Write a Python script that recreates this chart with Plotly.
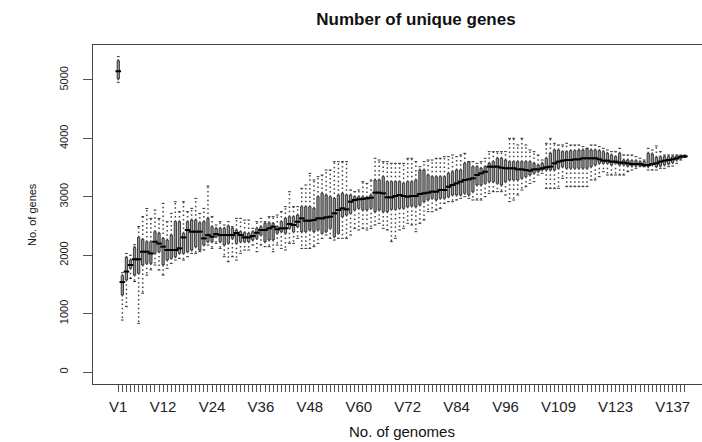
import plotly.graph_objects as go

# ---- data ----
genomes = [f"V{i}" for i in range(1, 141)]
shown_labels = ["V1", "V12", "V24", "V36", "V48", "V60", "V72", "V84", "V96", "V109", "V123", "V137"]

lower = [4960, 890, 1120, 1600, 1550, 833, 1350, 1660, 1750, 1832,
         1746, 1660, 1775, 1860, 1917, 1946, 1917, 1974, 2032, 2032,
         2060, 2089, 2174, 2117, 2203, 2117, 1974, 1889, 1974, 1917,
         2032, 2089, 2089, 2174, 2060, 2174, 2146, 2146, 2060, 2174,
         2117, 2089, 2203, 2203, 2289, 2117, 2117, 2117, 2146, 2203,
         2289, 2346, 2289, 2260, 2289, 2289, 2289, 2346, 2460, 2432,
         2460, 2432, 2460, 2517, 2546, 2460, 2432, 2232, 2289, 2432,
         2460, 2546, 2517, 2403, 2546, 2603, 2745, 2745, 2774, 2802,
         2888, 2917, 2917, 2945, 2974, 3002, 2974, 2945, 2945, 2945,
         3002, 3059, 3088, 3088, 3088, 3031, 2917, 2945, 3031, 3116,
         3173, 3230, 3259, 3373, 3402, 3145, 3145, 3145, 3145, 3316,
         3174, 3174, 3174, 3174, 3174, 3174, 3288, 3288, 3345, 3430,
         3373, 3373, 3373, 3373, 3373, 3430, 3459, 3488, 3516, 3516,
         3459, 3459, 3459, 3488, 3488, 3516, 3527, 3573, 3630, 3676]

q1 = [5020, 1320, 1575, 1775, 1660, 1690, 1832, 1860, 1860, 2032,
      2060, 1832, 1917, 1946, 1974, 2032, 2032, 2060, 2089, 2146,
      2089, 2174, 2231, 2231, 2317, 2231, 2174, 2203, 2288, 2203,
      2231, 2231, 2231, 2260, 2288, 2345, 2231, 2260, 2260, 2375,
      2403, 2375, 2460, 2403, 2488, 2403, 2403, 2431, 2403, 2431,
      2374, 2403, 2460, 2317, 2374, 2660, 2688, 2717, 2774, 2802,
      2774, 2774, 2802, 2745, 2774, 2745, 2745, 2785, 2785, 2802,
      2802, 2831, 2843, 2831, 2860, 2917, 2945, 2974, 2945, 2974,
      2974, 3002, 3031, 3031, 3031, 3059, 3031, 3088, 3202, 3202,
      3230, 3259, 3259, 3230, 3202, 3259, 3288, 3288, 3288, 3316,
      3345, 3373, 3402, 3430, 3459, 3459, 3459, 3459, 3488, 3516,
      3488, 3488, 3488, 3488, 3488, 3488, 3516, 3545, 3573, 3573,
      3573, 3545, 3573, 3545, 3545, 3527, 3527, 3527, 3527, 3516,
      3516, 3545, 3516, 3527, 3545, 3562, 3585, 3630, 3659, 3676]

median = [5150, 1540, 1720, 1832, 1930, 1930, 2060, 2060, 2030, 2231,
          2200, 2146, 2089, 2089, 2089, 2117, 2305, 2431, 2403, 2403,
          2403, 2288, 2345, 2317, 2363, 2345, 2345, 2345, 2345, 2380,
          2345, 2305, 2305, 2329, 2385, 2431, 2431, 2460, 2488, 2443,
          2460, 2460, 2534, 2517, 2574, 2631, 2591, 2591, 2602, 2631,
          2631, 2648, 2660, 2717, 2774, 2802, 2785, 2917, 2945, 2957,
          2962, 2974, 2985, 3071, 3071, 3059, 2991, 2991, 3014, 3031,
          3014, 3002, 3014, 3014, 3048, 3059, 3071, 3088, 3088, 3116,
          3116, 3173, 3202, 3230, 3259, 3288, 3299, 3316, 3373, 3402,
          3430, 3516, 3516, 3516, 3499, 3488, 3488, 3488, 3470, 3470,
          3459, 3448, 3470, 3470, 3488, 3505, 3516, 3573, 3602, 3619,
          3630, 3630, 3641, 3641, 3659, 3659, 3659, 3659, 3641, 3619,
          3619, 3602, 3602, 3585, 3585, 3573, 3562, 3562, 3562, 3545,
          3545, 3562, 3573, 3602, 3619, 3630, 3641, 3659, 3687, 3693]

q3 = [5330, 1650, 1963, 1917, 2134, 2306, 2271, 2231, 2231, 2403,
      2375, 2288, 2260, 2345, 2574, 2574, 2375, 2574, 2602, 2602,
      2556, 2574, 2631, 2488, 2460, 2460, 2460, 2500, 2460, 2431,
      2403, 2385, 2375, 2403, 2460, 2488, 2545, 2556, 2545, 2488,
      2574, 2631, 2660, 2660, 2688, 2831, 2831, 2831, 2802, 3002,
      3059, 3030, 3002, 2973, 3030, 3059, 3031, 3031, 3002, 3002,
      3002, 2991, 3031, 3288, 3288, 3345, 3259, 3259, 3259, 3259,
      3230, 3259, 3259, 3288, 3459, 3459, 3373, 3345, 3345, 3345,
      3345, 3402, 3430, 3459, 3459, 3573, 3602, 3516, 3516, 3488,
      3516, 3573, 3602, 3659, 3659, 3630, 3602, 3602, 3602, 3602,
      3602, 3602, 3573, 3545, 3573, 3659, 3744, 3802, 3802, 3773,
      3773, 3790, 3790, 3801, 3801, 3830, 3801, 3801, 3790, 3773,
      3744, 3716, 3687, 3744, 3630, 3630, 3619, 3619, 3602, 3602,
      3744, 3733, 3676, 3687, 3687, 3687, 3687, 3699, 3699, 3704]

upper = [5400, 1700, 2030, 2000, 2180, 2490, 2660, 2800, 2630, 2773,
         2630, 2888, 2574, 2716, 2916, 2745, 2916, 2745, 2802, 2973,
         2716, 2802, 3185, 2660, 2517, 2574, 2517, 2574, 2488, 2631,
         2631, 2602, 2602, 2460, 2574, 2631, 2574, 2660, 2660, 2688,
         2745, 2831, 3087, 2831, 2831, 3145, 3202, 3401, 3287, 3345,
         3373, 3458, 3458, 3601, 3601, 3602, 3602, 3116, 3088, 3116,
         3259, 3230, 3288, 3659, 3630, 3602, 3602, 3573, 3573, 3573,
         3573, 3659, 3659, 3602, 3516, 3602, 3630, 3630, 3659, 3659,
         3687, 3687, 3716, 3687, 3716, 3744, 3602, 3602, 3573, 3602,
         3659, 3773, 3773, 3773, 3773, 3773, 4001, 4001, 3887, 4001,
         3887, 3802, 3773, 3716, 3630, 3916, 4001, 3916, 3887, 3887,
         3916, 3887, 3887, 3887, 3859, 3830, 3887, 3887, 3859, 3830,
         3801, 3773, 3773, 3830, 3716, 3716, 3716, 3687, 3659, 3630,
         3830, 3801, 3870, 3773, 3716, 3716, 3716, 3716, 3716, 3716]

y_ticks = [0, 1000, 2000, 3000, 4000, 5000]

# ---- build figure ----
pos = list(range(1, len(genomes) + 1))
ticktext = [g if g in shown_labels else "" for g in genomes]

wx, wy = [], []
for p, lo, a, b, hi in zip(pos, lower, q1, q3, upper):
    wx += [p, p, None, p, p, None]
    wy += [b, hi, None, a, lo, None]

fig = go.Figure()
fig.add_trace(go.Scatter(
    x=wx, y=wy, mode="lines",
    line=dict(color="#444444", width=1.5, dash="1.5px,2.8px"),
    hoverinfo="skip", showlegend=False))
fig.add_trace(go.Scatter(
    x=pos + pos, y=lower + upper, mode="markers",
    marker=dict(symbol="line-ew", size=2, line=dict(width=1, color="#333333")),
    hoverinfo="skip", showlegend=False))
fig.add_trace(go.Box(
    x=pos, q1=q1, median=median, q3=q3, lowerfence=q1, upperfence=q3,
    fillcolor="#979797", line=dict(color="#1a1a1a", width=0.8),
    whiskerwidth=0, hoverinfo="skip", showlegend=False))
fig.add_trace(go.Scatter(
    x=pos, y=median, mode="markers",
    marker=dict(symbol="line-ew", size=4, line=dict(width=2, color="black")),
    hoverinfo="skip", showlegend=False))

font_family = "Liberation Sans, Arial, Helvetica, sans-serif"
fig.update_layout(
    width=702, height=442,
    margin=dict(l=93, r=0, t=45, b=58),
    paper_bgcolor="white", plot_bgcolor="white",
    boxgap=0.2,
    font=dict(family=font_family, color="#222222"),
    title=dict(text="<b>Number of unique genes</b>", x=416 / 702, xanchor="center",
               y=1 - 19 / 442, yanchor="middle", font=dict(size=17, color="#111111")),
    xaxis=dict(range=[-5.2, 144.2], tickmode="array", tickvals=pos, ticktext=ticktext,
               ticks="outside", ticklen=7, tickwidth=1, tickcolor="#555555",
               showline=True, mirror=True, linecolor="#444444", linewidth=1,
               showgrid=False, zeroline=False, tickangle=0,
               tickfont=dict(size=15, color="#222222"), ticklabelstandoff=2),
    yaxis=dict(range=[-205, 5599], tickmode="array", tickvals=y_ticks,
               ticktext=[str(v) for v in y_ticks], tickangle=-90,
               ticks="outside", ticklen=9, tickwidth=1, tickcolor="#555555",
               showline=True, mirror=False, linecolor="#444444", linewidth=1,
               showgrid=False, zeroline=False,
               tickfont=dict(size=11, color="#222222"), ticklabelstandoff=11),
    annotations=[
        dict(text="No. of genomes", xref="paper", yref="paper",
             x=(402 - 93) / 609, y=(384 - 431) / 339, xanchor="center", yanchor="middle",
             showarrow=False, font=dict(size=15, color="#111111")),
        dict(text="No. of genes", xref="paper", yref="paper", textangle=-90,
             x=(32 - 93) / 609, y=(384 - 215) / 339, xanchor="center", yanchor="middle",
             showarrow=False, font=dict(size=11, color="#111111")),
    ],
)

fig.write_html("out.html")
